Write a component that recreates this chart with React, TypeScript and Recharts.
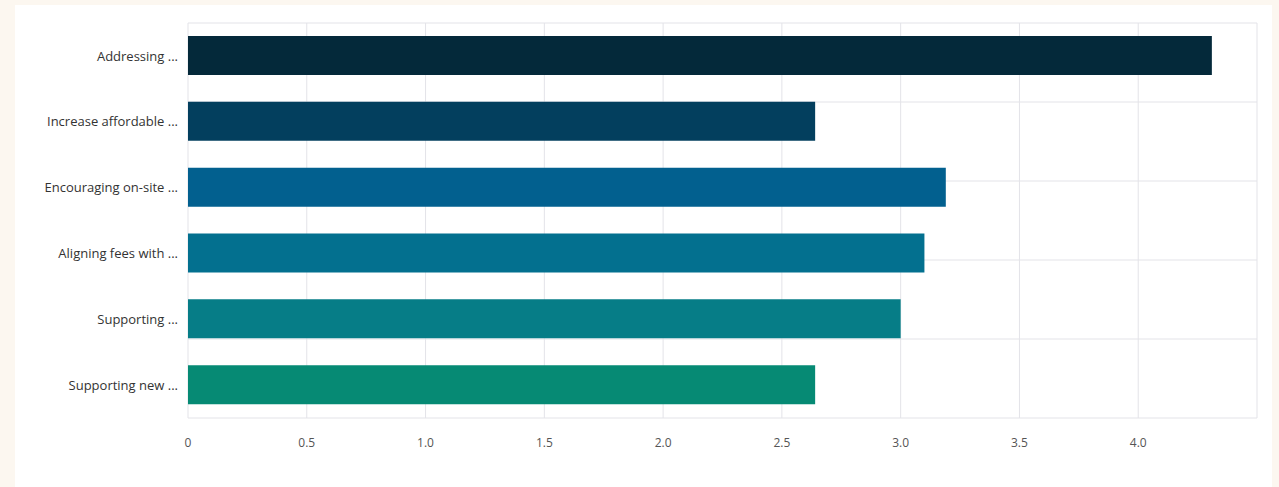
import React from 'react';
import { BarChart, Bar, XAxis, YAxis, CartesianGrid, Cell } from 'recharts';

const categories = [
  'Addressing ...',
  'Increase affordable ...',
  'Encouraging on-site ...',
  'Aligning fees with ...',
  'Supporting ...',
  'Supporting new ...',
];
const scores = [4.31, 2.64, 3.19, 3.1, 3.0, 2.64];
const barColors = ['#04293a', '#033f5e', '#02608f', '#03708f', '#067d87', '#068a74'];
const xTicks = [0, 0.5, 1.0, 1.5, 2.0, 2.5, 3.0, 3.5, 4.0];
const bandEdges = [0, 1, 2, 3, 4, 5, 6];

const data = categories.map((name, i) => ({ name, score: scores[i] }));

const fontFamily = "'Open Sans', Arial, sans-serif";

export default function App() {
  return (
    <div style={{ position: 'absolute', left: 0, top: 0, width: 1279, height: 487, background: '#fcf7f0', overflow: 'hidden' }}>
      <div style={{ position: 'absolute', left: 15, top: 5, width: 1257, height: 482, background: '#ffffff' }}>
        <BarChart
          width={1257}
          height={470}
          data={data}
          layout="vertical"
          margin={{ top: 18, right: 15, bottom: 22, left: 0 }}
          barCategoryGap="20%"
        >
          <CartesianGrid stroke="#e3e3e8" yAxisId="bands" />
          <XAxis
            type="number"
            domain={[0, 4.5]}
            ticks={xTicks}
            tickFormatter={(v: number) => (v === 0 ? '0' : v.toFixed(1))}
            axisLine={false}
            tickLine={false}
            tickMargin={14}
            height={35}
            tick={{ fill: '#555', fontSize: 12, fontFamily }}
          />
          <YAxis
            type="category"
            dataKey="name"
            width={173}
            axisLine={false}
            tickLine={false}
            tickMargin={4}
            tick={{ fill: '#333', fontSize: 13, fontFamily }}
          />
          <YAxis
            yAxisId="bands"
            type="number"
            domain={[0, 6]}
            ticks={bandEdges}
            hide
          />
          <Bar dataKey="score" barSize={39} isAnimationActive={false}>
            {data.map((d, i) => (
              <Cell key={d.name} fill={barColors[i]} />
            ))}
          </Bar>
        </BarChart>
      </div>
    </div>
  );
}
